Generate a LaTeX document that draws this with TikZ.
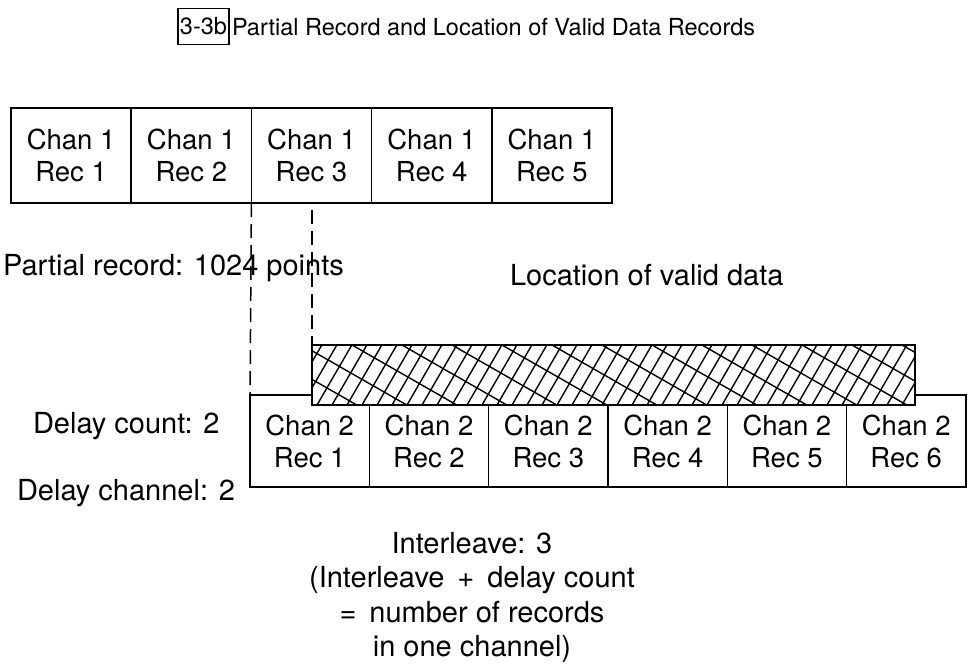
\documentclass[tikz,border=0pt]{standalone}
\usepackage{fontspec}
\setmainfont{TeX Gyre Heros}
\usetikzlibrary{positioning}

\begin{document}
\begin{tikzpicture}[
  x=1pt, y=-1pt,
  every node/.style={inner sep=0pt, outer sep=0pt},
  recbox/.style={draw, line width=1.5pt, minimum height=95pt, align=center,
    font=\fontsize{27.5}{32}\selectfont, execute at begin node={\rule{0pt}{32pt}}},
  chanA/.style={recbox, minimum width=120.2pt},
  chanB/.style={recbox, minimum width=119.3pt, minimum height=92pt},
  label/.style={font=\fontsize{29}{34.5}\selectfont},
  guide/.style={line width=1.5pt, dash pattern=on 14pt off 7pt},
  hatchbar/.style={draw, line width=1.6pt, fill=white, minimum width=603pt, minimum height=60pt,
    path picture={
      \foreach \k in {0,...,16}
        \draw[line width=1.4pt] ([xshift=-110pt+\k*50pt]path picture bounding box.north west) -- ++(110,63);
      \foreach \k in {0,...,44}
        \draw[line width=1.4pt] ([xshift=-40pt+\k*15pt]path picture bounding box.south west) -- ++(36,-62);
    }},
]
\useasboundingbox (0,0) rectangle (969,670);

% Title
\node[font=\fontsize{23.5}{28}\selectfont, anchor=base west] (title) at (232,35)
  {Partial Record and Location of Valid Data Records};
\node[draw, line width=1.2pt, inner xsep=2pt, minimum height=36pt,
  font=\fontsize{23.5}{28}\selectfont, left=3pt of title] (tag) {3-3b};

% Channel 1 records
\node[chanA] (c1r1) at (71.1,155.5) {Chan 1\\Rec 1};
\node[chanA, right=0pt of c1r1] (c1r2) {Chan 1\\Rec 2};
\node[chanA, right=0pt of c1r2] (c1r3) {Chan 1\\Rec 3};
\node[chanA, right=0pt of c1r3] (c1r4) {Chan 1\\Rec 4};
\node[chanA, right=0pt of c1r4] (c1r5) {Chan 1\\Rec 5};

% Channel 2 records
\node[chanB] (c2r1) at (309.7,441) {Chan 2\\Rec 1};
\node[chanB, right=0pt of c2r1] (c2r2) {Chan 2\\Rec 2};
\node[chanB, right=0pt of c2r2] (c2r3) {Chan 2\\Rec 3};
\node[chanB, right=0pt of c2r3] (c2r4) {Chan 2\\Rec 4};
\node[chanB, right=0pt of c2r4] (c2r5) {Chan 2\\Rec 5};
\node[chanB, right=0pt of c2r5] (c2r6) {Chan 2\\Rec 6};

% Valid data (hatched)
\node[hatchbar] (valid) at (613.5,375) {};

% Labels
\node[label, anchor=base west] (partial) at (3,275) {Partial record: 1024 points};
\node[label, anchor=base west] (location) at (510,285) {Location of valid data};
\node[label, anchor=base west] (dcount) at (33,433) {Delay count: 2};
\node[label, anchor=base west] (dchan) at (17,500) {Delay channel: 2};
\node[label, align=center, anchor=north] (inter) at (472,532)
  {Interleave: 3\\(Interleave \,+\, delay count\\=\, number of records\\in one channel)};

% Guides
\draw[guide] (c1r3.south west) -- (c2r1.north west);
\draw[guide, shorten <=7pt] (valid.north west |- c1r3.south) -- (valid.north west);
\end{tikzpicture}
\end{document}
